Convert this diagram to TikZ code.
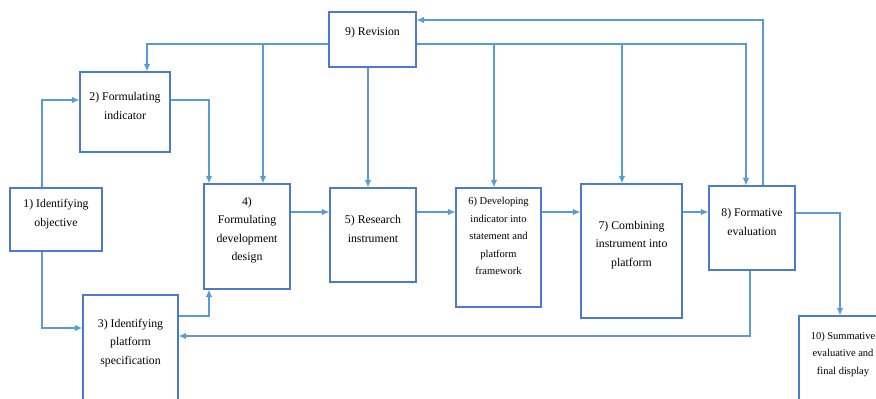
\documentclass[tikz,border=0pt]{standalone}
\usepackage{fontspec}
\setmainfont{Liberation Serif}
\usepackage{tikz}
\usetikzlibrary{arrows.meta}
\usetikzlibrary{calc}

\definecolor{boxblue}{HTML}{4A7BD0}
\definecolor{arrblue}{HTML}{5B9BD5}

\tikzset{
  stagebox/.style={draw=boxblue, line width=1.3pt, inner sep=0pt},
  stagetext/.style={align=center, inner sep=0pt, font=\fontsize{11.8}{18.5}\selectfont},
  smalltext/.style={stagetext, font=\fontsize{10.5}{17.5}\selectfont},
  flow/.style={draw=arrblue, line width=1.1pt, -{Latex[length=7.5pt,width=6.5pt]}}
}

\begin{document}
\begin{tikzpicture}[x=1pt,y=-1pt]
    \useasboundingbox (0,0) rectangle (876,399);
    \clip (0,0) rectangle (876,399);

    % stages
    \node[stagebox, minimum width=87pt, minimum height=55pt] (S9) at (372.5,39.5) {};
    \node[stagebox, minimum width=90pt, minimum height=80pt] (S2) at (125,112) {};
    \node[stagebox, minimum width=92pt, minimum height=63pt] (S1) at (56,219.5) {};
    \node[stagebox, minimum width=86pt, minimum height=105pt] (S4) at (247,236.5) {};
    \node[stagebox, minimum width=86pt, minimum height=94pt] (S5) at (373,235) {};
    \node[stagebox, minimum width=95pt, minimum height=110pt] (S3) at (130.5,350) {};
    \node[stagebox, minimum width=85pt, minimum height=119pt] (S6) at (498.5,247.5) {};
    \node[stagebox, minimum width=101pt, minimum height=134pt] (S7) at (631.5,251) {};
    \node[stagebox, minimum width=86pt, minimum height=84pt] (S8) at (752,228) {};
    \node[stagebox, minimum width=92pt, minimum height=92pt] (S10) at (845,362) {};

    \node[stagetext] (T9) at (372.5,33) {9) Revision};
    \node[stagetext] (T2) at (125,106) {2) Formulating\\indicator};
    \node[stagetext] (T1) at (56,214) {1) Identifying\\objective};
    \node[stagetext] (T4) at (247,230) {4)\\Formulating\\development\\design};
    \node[stagetext] (T5) at (373,229) {5) Research\\instrument};
    \node[stagetext] (T3) at (130.5,343) {3) Identifying\\platform\\specification};
    \node[smalltext] (T6) at (498.5,236) {6) Developing\\indicator into\\statement and\\platform\\framework};
    \node[stagetext] (T7) at (631.5,245) {7) Combining\\instrument into\\platform};
    \node[stagetext] (T8) at (752,222) {8) Formative\\evaluation};
    \node[smalltext] (T10) at (843,354) {10) Summative\\evaluative and\\final display};

    % bend points
    \coordinate (busL) at (147,44);
    \coordinate (busR) at (746,44);
    \coordinate (B4) at (263,44);
    \coordinate (B5) at (368,67);
    \coordinate (B6) at (494,44);
    \coordinate (B7) at (622,44);
    \coordinate (R89) at (763,20);
    \coordinate (C12) at (42,100);
    \coordinate (C13) at (42,328);
    \coordinate (C24) at (209,100);
    \coordinate (C34) at (209,316);
    \coordinate (M) at (0,212);
    \coordinate (C810) at (840,213);
    \coordinate (C83) at (750,336);

    % revision feedback
    \draw[flow] (S9.west |- busL) -| (S2.north -| busL);
    \draw[flow] (B4) -- (S4.north -| B4);
    \draw[flow] (S9.south -| B5) -- (S5.north -| B5);
    \draw[flow] (S9.east |- busR) -| (S8.north -| busR);
    \draw[flow] (B6) -- (S6.north -| B6);
    \draw[flow] (B7) -- (S7.north -| B7);
    \draw[flow] (S8.north -| R89) |- (S9.east |- R89);

    % main flow
    \draw[flow] (S1.north -| C12) |- (S2.west |- C12);
    \draw[flow] (S1.south -| C13) |- (S3.west |- C13);
    \draw[flow] (S2.east |- C24) -| (S4.north -| C24);
    \draw[flow] (S3.east |- C34) -| (S4.south -| C34);
    \draw[flow] (S4.east |- M) -- (S5.west |- M);
    \draw[flow] (S5.east |- M) -- (S6.west |- M);
    \draw[flow] (S6.east |- M) -- (S7.west |- M);
    \draw[flow] (S7.east |- M) -- (S8.west |- M);
    \draw[flow] (S8.east |- C810) -| (S10.north -| C810);
    \draw[flow] (S8.south -| C83) |- (S3.east |- C83);
\end{tikzpicture}
\end{document}
